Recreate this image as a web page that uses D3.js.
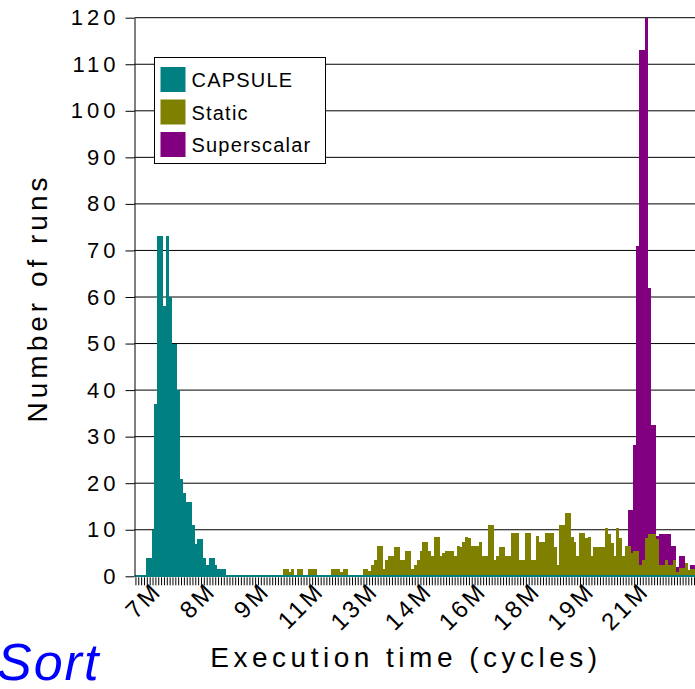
<!DOCTYPE html>
<html>
<head>
<meta charset="utf-8">
<script src="https://cdn.jsdelivr.net/npm/d3@7/dist/d3.min.js"></script>
<style>
body { margin: 0; background: #fff; }
svg { display: block; font-family: "Liberation Sans", Arial, sans-serif; }
</style>
</head>
<body>
<svg id="chart" width="695" height="689"></svg>
<script>
// runs per execution-time bin (one value per bin, left to right)
var capsule = [
    0,0,0,0,4,4,10,37,73,73,58,73,60,50,50,40,21,18,16,16,
    11,7,8,8,4,2.4,4,4,2.4,1.6,1.6,1.6,0,0,0,0,0,0,0,0,
    0,0,0,0,0,0,0,0,0,0,0,0,0,0,0,0,0,0,0,0,
    0,0,0,0,0,0,0,0,0,0,0,0,0,0,0,0,0,0,0,0,
    0,0,0,0,0,0,0,0,0,0,0,0,0,0,0,0,0,0,0,0,
    0,0,0,0,0,0,0,0,0,0,0,0,0,0,0,0,0,0,0,0,
    0,0,0,0,0,0,0,0,0,0,0,0,0,0,0,0,0,0,0,0,
    0,0,0,0,0,0,0,0,0,0,0,0,0,0,0,0,0,0,0,0,
    0,0,0,0,0,0,0,0,0,0,0,0,0,0,0,0,0,0,0,0,
    0,0,0,0,0,0,0,0,0,0,0,0,0,0,0,0,0,0
];
var staticRuns = [
    0,0,0,0,0,0,0,0,0,0,0,0,0,0,0,0,0,0,0,0,
    0,0,0,0,0,0,0,0,0,0,0,0,0,0,0,0,0,0,0,0,
    0,0,0,0,0,0,0,0,0,0,0,0,1.5,1.5,1,1.5,0,1.5,1.5,0,
    0,1.5,1.5,1.5,0,0,0,0,0,1.5,1.5,1.5,1,1.5,1.5,0,0,0,0,0,
    1.5,1.5,1.1,2.4,3.5,6.5,6.5,1.5,3.5,4.3,4.3,6.3,6.2,3.5,3.5,5.4,5.4,1.5,2.4,3.5,
    5.4,7.3,7.3,5.4,4.3,8.4,8.4,4.3,5,5.4,5.4,5.4,4.3,6.5,6.2,7.3,8.4,8.2,6.5,6.5,
    6.5,7.3,4.3,4.3,11.1,11.1,3.5,4.3,6.2,6.2,4.3,4.3,9.2,9.2,9.2,3.5,3.5,9.2,9.2,3.5,
    3.5,8.6,7.3,7.3,9.2,9.2,9.2,6.2,2.4,11.1,11.1,13.5,13.5,8.4,7.3,4.3,9.2,9.2,8.2,8.4,
    4.3,6.2,6.2,6.3,6.3,10.4,9.1,7.2,4.3,10.3,8.3,4.3,6.5,6.5,4.9,5.4,5.4,2.4,3.5,8.3,
    9.1,9.1,9.1,8.1,2.4,2.4,3.5,2.4,2.4,3.5,1,1.7,1.7,2.9,1.3,1.5,1.5,1.5
];
var superscalar = [
    0,0,0,0,0,0,0,0,0,0,0,0,0,0,0,0,0,0,0,0,
    0,0,0,0,0,0,0,0,0,0,0,0,0,0,0,0,0,0,0,0,
    0,0,0,0,0,0,0,0,0,0,0,0,0,0,0,0,0,0,0,0,
    0,0,0,0,0,0,0,0,0,0,0,0,0,0,0,0,0,0,0,0,
    0,0,0,0,0,0,0,0,0,0,0,0,0,0,0,0,0,0,0,0,
    0,0,0,0,0,0,0,0,0,0,0,0,0,0,0,0,0,0,0,0,
    0,0,0,0,0,0,0,0,0,0,0,0,0,0,0,0,0,0,0,0,
    0,0,0,0,0,0,0,0,0,0,0,0,0,0,0,0,0,0,0,0,
    0,0,0,0,0,0,0,0,0,0,0,0,0,14.3,14.3,28.2,71,113,113,120,
    62,32.4,32.4,8.6,9.1,9.1,9.1,9.1,6.5,6.5,2,4.3,4.3,0,0,2.4,2.4,2.4
];

// which bins carry a label on the x axis
var labelBins = [4, 23, 42, 61, 80, 99, 118, 137, 156, 175];
var labelText = ['7M', '8M', '9M', '11M', '13M', '14M', '16M', '18M', '19M', '21M'];
var yTicks = [0, 10, 20, 30, 40, 50, 60, 70, 80, 90, 100, 110, 120];

var seriesNames = ['CAPSULE', 'Static', 'Superscalar'];
var seriesColors = ['#008080', '#808000', '#800080'];

var svg = d3.select('#chart');
var plotLeft = 134.5, plotBottom = 576.3, plotTop = 17.7, band = 2.85;
var bins = d3.range(capsule.length);

var x = d3.scaleBand().domain(bins).range([plotLeft, plotLeft + bins.length * band]);
var y = d3.scaleLinear().domain([0, 120]).range([plotBottom, plotTop]);

// gridlines
svg.append('g')
    .selectAll('line')
    .data(yTicks.slice(1))
    .join('line')
    .attr('x1', plotLeft)
    .attr('x2', 695)
    .attr('y1', function (d) { return y(d); })
    .attr('y2', function (d) { return y(d); })
    .attr('stroke', '#000')
    .attr('stroke-width', 1);

// x axis: tick per bin, labels on a few
var xAxis = svg.append('g')
    .attr('transform', 'translate(0,' + (plotBottom + 1) + ')')
    .call(d3.axisBottom(x)
          .tickSize(8)
          .tickSizeOuter(0)
          .tickFormat(function (d) {
              var k = labelBins.indexOf(d);
              return k < 0 ? '' : labelText[k];
          }));
xAxis.select('.domain').remove();
xAxis.selectAll('.tick line').attr('stroke', '#000');
xAxis.selectAll('.tick text')
    .attr('font-size', 24)
    .attr('letter-spacing', 3)
    .attr('fill', '#000')
    .attr('text-anchor', 'end')
    .attr('dy', null)
    .attr('y', null)
    .attr('transform', 'translate(16,15) rotate(-45)');

// bars, back to front
function drawSeries(values, color, minH) {
    var rows = values.map(function (v, i) { return { bin: i, v: v }; })
        .filter(function (d) { return d.v > 0 || minH > 0; });
    svg.append('g')
        .attr('shape-rendering', 'crispEdges')
        .selectAll('rect')
        .data(rows)
        .join('rect')
        .attr('x', function (d) { return x(d.bin); })
        .attr('width', x.bandwidth() + 0.2)
        .attr('y', function (d) { return Math.min(y(d.v), plotBottom - minH); })
        .attr('height', function (d) { return Math.max(plotBottom - y(d.v), minH) + 1; })
        .attr('fill', color);
}
drawSeries(superscalar, seriesColors[2], 0);
drawSeries(staticRuns, seriesColors[1], 0);
drawSeries(capsule, seriesColors[0], 1.8);

// y axis
var yAxis = svg.append('g')
    .attr('transform', 'translate(' + plotLeft + ',0)')
    .call(d3.axisLeft(y).tickValues(yTicks).tickSize(9).tickSizeOuter(0));
yAxis.select('.domain').attr('stroke', '#000');
yAxis.selectAll('.tick line').attr('stroke', '#000');
yAxis.selectAll('.tick text')
    .attr('font-size', 22)
    .attr('letter-spacing', 4)
    .attr('fill', '#000')
    .attr('x', -15);

// axis titles
svg.append('text')
    .attr('transform', 'translate(47,298) rotate(-90)')
    .attr('text-anchor', 'middle')
    .attr('font-size', 28)
    .attr('letter-spacing', 4)
    .attr('fill', '#000')
    .text('Number of runs');

svg.append('text')
    .attr('x', 406)
    .attr('y', 667)
    .attr('text-anchor', 'middle')
    .attr('font-size', 28)
    .attr('letter-spacing', 4.5)
    .attr('fill', '#000')
    .text('Execution time (cycles)');

svg.append('text')
    .attr('x', -3)
    .attr('y', 680)
    .attr('font-size', 52)
    .attr('font-style', 'italic')
    .attr('letter-spacing', 2)
    .attr('fill', '#0000ff')
    .text('Sort');

// legend
var legend = svg.append('g').attr('transform', 'translate(154.5,57.5)');
legend.append('rect')
    .attr('width', 171)
    .attr('height', 106)
    .attr('fill', '#fff')
    .attr('stroke', '#000');
var item = legend.selectAll('g.item')
    .data(seriesNames)
    .join('g')
    .attr('class', 'item')
    .attr('transform', function (d, i) { return 'translate(6,' + (9.5 + i * 32.5) + ')'; });
item.append('rect')
    .attr('width', 25)
    .attr('height', 25)
    .attr('fill', function (d, i) { return seriesColors[i]; });
item.append('text')
    .attr('x', 31)
    .attr('y', 20)
    .attr('font-size', 20)
    .attr('letter-spacing', 1.2)
    .attr('fill', '#000')
    .text(function (d) { return d; });
</script>
</body>
</html>
